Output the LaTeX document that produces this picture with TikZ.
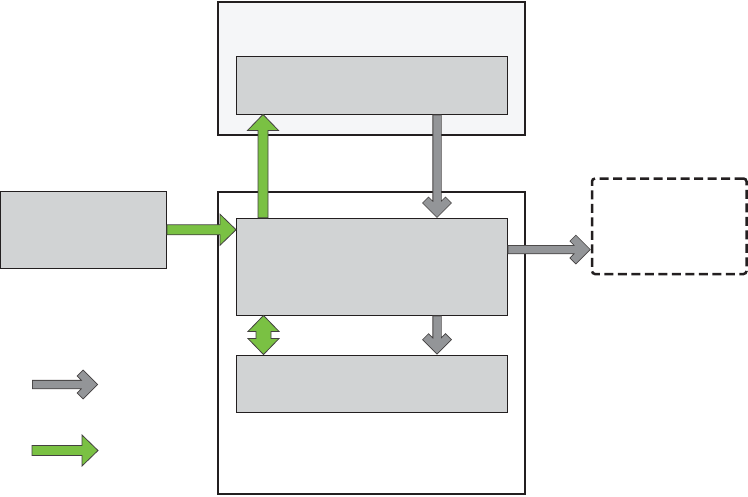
\documentclass[tikz,border=0pt]{standalone}
\usetikzlibrary{calc}
\definecolor{boxgray}{HTML}{D1D3D4}
\definecolor{panel}{HTML}{F5F6F8}
\definecolor{arrgray}{HTML}{939598}
\definecolor{arrgreen}{HTML}{7AC143}
\definecolor{edge}{HTML}{231F20}
\tikzset{
 outerbox/.style={draw=edge, line width=2pt, inner sep=0pt},
 innerbox/.style={draw=edge, line width=0.9pt, fill=boxgray, inner sep=0pt},
 dashbox/.style={draw=edge, line width=2.5pt, dash pattern=on 9pt off 4.5pt, rounded corners=3pt, inner sep=0pt},
 grayarrow/.style={draw=edge!85, line width=0.8pt, double=arrgray, double distance=7.5pt, line cap=rect, line join=miter},
 greenarrow/.style={draw=edge!85, line width=0.8pt, fill=arrgreen, line join=miter},
}
\newcommand{\grayarr}[2]{%
 \path ($(#2)!6.4pt!(#1)$) coordinate (gP) ($(#2)!12.4pt!(#1)$) coordinate (gQ) ($(#1)!4.55pt!(#2)$) coordinate (gS);
 \draw[grayarrow] (gS) -- (gQ) ($(gP)!12pt!45:(#1)$) -- (gP) -- ($(gP)!12pt!-45:(#1)$);
}
\newcommand{\greenarr}[2]{%
 \path ($(#2)!16pt!(#1)$) coordinate (gH);
 \draw[greenarrow] ($(#1)!5pt!90:(#2)$) -- ($(gH)!5pt!90:(#2)$) -- ($(gH)!15.5pt!90:(#2)$) -- (#2)
   -- ($(gH)!15.5pt!-90:(#2)$) -- ($(gH)!5pt!-90:(#2)$) -- ($(#1)!5pt!-90:(#2)$) -- cycle;
}
\newcommand{\greendbl}[2]{%
 \path ($(#1)!16pt!(#2)$) coordinate (hA) ($(#2)!16pt!(#1)$) coordinate (hB);
 \draw[greenarrow] (#1) -- ($(hA)!15.5pt!90:(#2)$) -- ($(hA)!7.5pt!90:(#2)$) -- ($(hB)!7.5pt!-90:(#1)$)
   -- ($(hB)!15.5pt!-90:(#1)$) -- (#2) -- ($(hB)!15.5pt!90:(#1)$) -- ($(hB)!7.5pt!90:(#1)$)
   -- ($(hA)!7.5pt!-90:(#2)$) -- ($(hA)!15.5pt!-90:(#2)$) -- cycle;
}
\begin{document}
\begin{tikzpicture}[x=1pt,y=-1pt]
\useasboundingbox (0,0) rectangle (748,496);
% boxes
\node[outerbox, fill=panel, minimum width=306.5pt, minimum height=133pt] (topout) at (371.25,68) {};
\node[outerbox, fill=white, minimum width=306.5pt, minimum height=302.3pt] (mainout) at (371.25,342.85) {};
\node[innerbox, minimum width=270.5pt, minimum height=57.5pt] (topin) at (371.75,85.25) {};
\node[innerbox, minimum width=270.5pt, minimum height=96.7pt] (inner1) at (371.75,266.65) {};
\node[innerbox, minimum width=270.5pt, minimum height=57.5pt] (inner2) at (371.75,383.75) {};
\node[innerbox, minimum width=166.5pt, minimum height=77.5pt] (left) at (83.25,229.75) {};
\node[dashbox, minimum width=154.5pt, minimum height=95.5pt] (dash) at (669.25,226.25) {};
% connector end points
\coordinate (g1s) at ([xshift=65.25pt]topin.south);
\coordinate (g1e) at (g1s |- inner1.north);
\coordinate (g2s) at ([xshift=65.25pt]inner1.south);
\coordinate (g2e) at (g2s |- inner2.north);
\coordinate (g3s) at ($(inner1.north east)!0.325!(inner1.south east)$);
\coordinate (g3e) at (g3s -| dash.west);
\coordinate (lg1s) at (32,384.5);
\coordinate (lg1e) at (98,384.5);
\coordinate (r1s) at (left.east);
\coordinate (r1e) at (left.east -| inner1.west);
\coordinate (r2s) at ([xshift=-108.75pt]inner1.north);
\coordinate (r2e) at (r2s |- topin.south);
\coordinate (r3s) at ([xshift=-108.25pt]inner1.south);
\coordinate (r3e) at (r3s |- inner2.north);
\coordinate (lg2s) at (32,450.5);
\coordinate (lg2e) at (98,450.5);
% arrows
\grayarr{g1s}{g1e}
\grayarr{g2s}{g2e}
\grayarr{g3s}{g3e}
\grayarr{lg1s}{lg1e}
\greenarr{r1s}{r1e}
\greenarr{r2s}{r2e}
\greendbl{r3s}{r3e}
\greenarr{lg2s}{lg2e}
\end{tikzpicture}
\end{document}
